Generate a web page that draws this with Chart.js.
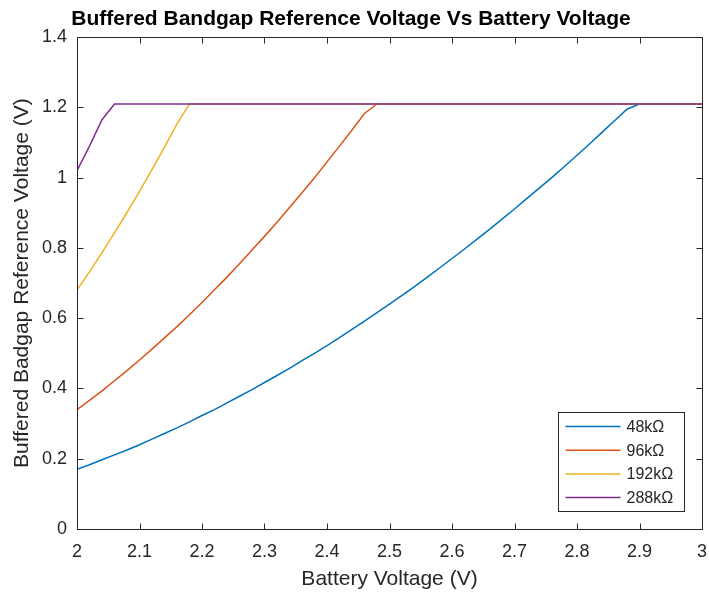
<!DOCTYPE html>
<html>
<head>
<meta charset="utf-8">
<title>Buffered Bandgap Reference Voltage Vs Battery Voltage</title>
<script src="https://cdn.jsdelivr.net/npm/chart.js@4.4.1/dist/chart.umd.min.js"></script>
<style>
  html, body { margin: 0; padding: 0; background: #fff; }
  #wrap { width: 709px; height: 596px; }
</style>
</head>
<body>
<div id="wrap"><canvas id="bgChart"></canvas></div>
<script>
// battery voltage samples (V), 20 mV steps
const volts = [
  2.00, 2.02, 2.04, 2.06, 2.08, 2.10, 2.12, 2.14, 2.16, 2.18,
  2.20, 2.22, 2.24, 2.26, 2.28, 2.30, 2.32, 2.34, 2.36, 2.38,
  2.40, 2.42, 2.44, 2.46, 2.48, 2.50, 2.52, 2.54, 2.56, 2.58,
  2.60, 2.62, 2.64, 2.66, 2.68, 2.70, 2.72, 2.74, 2.76, 2.78,
  2.80, 2.82, 2.84, 2.86, 2.88, 2.90, 2.92, 2.94, 2.96, 2.98, 3.00
];

const seriesNames = ['48k\u03A9', '96k\u03A9', '192k\u03A9', '288k\u03A9'];

const vref48 = [
  0.170, 0.183, 0.197, 0.211, 0.225, 0.240, 0.256, 0.272, 0.288, 0.305,
  0.323, 0.340, 0.359, 0.378, 0.397, 0.417, 0.437, 0.457, 0.479, 0.500,
  0.522, 0.545, 0.568, 0.592, 0.616, 0.640, 0.665, 0.690, 0.716, 0.743,
  0.770, 0.797, 0.825, 0.853, 0.882, 0.911, 0.941, 0.971, 1.001, 1.032,
  1.064, 1.096, 1.129, 1.162, 1.195, 1.210, 1.210, 1.210, 1.210, 1.210, 1.210
];
const vref96 = [
  0.340, 0.366, 0.393, 0.422, 0.451, 0.481, 0.512, 0.544, 0.576, 0.610,
  0.645, 0.681, 0.717, 0.755, 0.794, 0.833, 0.873, 0.915, 0.957, 1.000,
  1.045, 1.090, 1.136, 1.183, 1.210, 1.210, 1.210, 1.210, 1.210, 1.210,
  1.210, 1.210, 1.210, 1.210, 1.210, 1.210, 1.210, 1.210, 1.210, 1.210,
  1.210, 1.210, 1.210, 1.210, 1.210, 1.210, 1.210, 1.210, 1.210, 1.210, 1.210
];
const vref192 = [
  0.680, 0.732, 0.787, 0.843, 0.901, 0.961, 1.023, 1.087, 1.153, 1.210,
  1.210, 1.210, 1.210, 1.210, 1.210, 1.210, 1.210, 1.210, 1.210, 1.210,
  1.210, 1.210, 1.210, 1.210, 1.210, 1.210, 1.210, 1.210, 1.210, 1.210,
  1.210, 1.210, 1.210, 1.210, 1.210, 1.210, 1.210, 1.210, 1.210, 1.210,
  1.210, 1.210, 1.210, 1.210, 1.210, 1.210, 1.210, 1.210, 1.210, 1.210, 1.210
];
const vref288 = [
  1.020, 1.090, 1.165, 1.210, 1.210, 1.210, 1.210, 1.210, 1.210, 1.210,
  1.210, 1.210, 1.210, 1.210, 1.210, 1.210, 1.210, 1.210, 1.210, 1.210,
  1.210, 1.210, 1.210, 1.210, 1.210, 1.210, 1.210, 1.210, 1.210, 1.210,
  1.210, 1.210, 1.210, 1.210, 1.210, 1.210, 1.210, 1.210, 1.210, 1.210,
  1.210, 1.210, 1.210, 1.210, 1.210, 1.210, 1.210, 1.210, 1.210, 1.210, 1.210
];

const lineColors = ['#0072BD', '#D95319', '#EDB120', '#7E2F8E'];
const AXIS_COLOR = '#262626';
const TICK_LEN = 6;

(function () {
  const FONT = "'Liberation Sans', Arial, Helvetica, sans-serif";
  Chart.defaults.font.family = FONT;
  Chart.defaults.color = AXIS_COLOR;

  function pts(ys) { return volts.map((v, i) => ({ x: v, y: ys[i] })); }
  // MATLAB style labels: 2, 2.1 ... 3 and 0, 0.2 ... 1.4
  function fmt(v) { return String(Number(Number(v).toFixed(2))); }

  // box with inward ticks on all four sides
  const axesBox = {
    id: 'axesBox',
    afterDatasetsDraw(chart) {
      const { ctx, chartArea: a, scales } = chart;
      const L = Math.round(a.left) + 0.5, R = Math.round(a.right) + 0.5;
      const T = Math.round(a.top) + 0.5, B = Math.round(a.bottom) + 0.5;
      ctx.save();
      ctx.strokeStyle = AXIS_COLOR;
      ctx.lineWidth = 1;
      ctx.beginPath();
      scales.x.ticks.forEach(t => {
        const px = Math.round(scales.x.getPixelForValue(t.value)) + 0.5;
        ctx.moveTo(px, B); ctx.lineTo(px, B - TICK_LEN);
        ctx.moveTo(px, T); ctx.lineTo(px, T + TICK_LEN);
      });
      scales.y.ticks.forEach(t => {
        const py = Math.round(scales.y.getPixelForValue(t.value)) + 0.5;
        ctx.moveTo(L, py); ctx.lineTo(L + TICK_LEN, py);
        ctx.moveTo(R, py); ctx.lineTo(R - TICK_LEN, py);
      });
      ctx.stroke();
      ctx.strokeRect(L, T, R - L, B - T);
      ctx.restore();
    },
    afterDraw(chart) {
      // legend in the lower right corner of the axes
      const { ctx, chartArea: a } = chart;
      const w = 126, h = 99, rowH = 23.7;
      const bx = Math.round(a.right - 18 - w) + 0.5;
      const by = Math.round(a.bottom - 18 - h) + 0.5;
      ctx.save();
      ctx.fillStyle = '#fff';
      ctx.fillRect(bx, by, w, h);
      ctx.strokeStyle = AXIS_COLOR;
      ctx.lineWidth = 1;
      ctx.strokeRect(bx, by, w, h);
      ctx.font = '16px ' + FONT;
      ctx.textBaseline = 'middle';
      ctx.textAlign = 'left';
      chart.data.datasets.forEach((ds, i) => {
        const y = by + 14 + i * rowH;
        ctx.strokeStyle = ds.borderColor;
        ctx.lineWidth = 1.5;
        ctx.beginPath();
        ctx.moveTo(bx + 7, y); ctx.lineTo(bx + 62, y);
        ctx.stroke();
        ctx.fillStyle = AXIS_COLOR;
        ctx.fillText(ds.label, bx + 68, y + 1);
      });
      ctx.restore();
    }
  };

  const series = [vref48, vref96, vref192, vref288];

  new Chart(document.getElementById('bgChart'), {
    type: 'line',
    data: {
      datasets: series.map((s, i) => ({
        label: seriesNames[i],
        data: pts(s),
        borderColor: lineColors[i],
        backgroundColor: lineColors[i],
        borderWidth: 1.5,
        pointRadius: 0,
        tension: 0,
        fill: false,
        order: series.length - i
      }))
    },
    options: {
      responsive: true,
      maintainAspectRatio: false,
      animation: false,
      layout: { padding: { left: 0, right: 7, top: 0, bottom: 0 } },
      plugins: {
        legend: { display: false },
        tooltip: { enabled: false },
        title: {
          display: true,
          text: 'Buffered Bandgap Reference Voltage Vs Battery Voltage',
          color: '#000',
          font: { size: 21, weight: 'bold' },
          padding: { top: 7, bottom: 5 }
        }
      },
      scales: {
        x: {
          type: 'linear',
          min: 2,
          max: 3,
          grid: { display: false, drawTicks: false },
          border: { display: false },
          ticks: { stepSize: 0.1, padding: 12, font: { size: 18 }, color: AXIS_COLOR, callback: fmt },
          title: {
            display: true,
            text: 'Battery Voltage (V)',
            font: { size: 21 },
            color: AXIS_COLOR,
            padding: { top: 0, bottom: 4 }
          },
          afterFit(scale) {
            scale.height = 67;
            scale.paddingLeft = 0;
            scale.paddingRight = 0;
          }
        },
        y: {
          min: 0,
          max: 1.4,
          grid: { display: false, drawTicks: false },
          border: { display: false },
          ticks: { stepSize: 0.2, padding: 10, font: { size: 18 }, color: AXIS_COLOR, callback: fmt },
          title: {
            display: true,
            text: 'Buffered Badgap Reference Voltage (V)',
            font: { size: 21 },
            color: AXIS_COLOR,
            padding: { top: 10, bottom: 0 }
          },
          afterFit(scale) {
            scale.width = 77;
            scale.paddingTop = 0;
            scale.paddingBottom = 0;
          }
        }
      }
    },
    plugins: [axesBox]
  });
})();
</script>
</body>
</html>
